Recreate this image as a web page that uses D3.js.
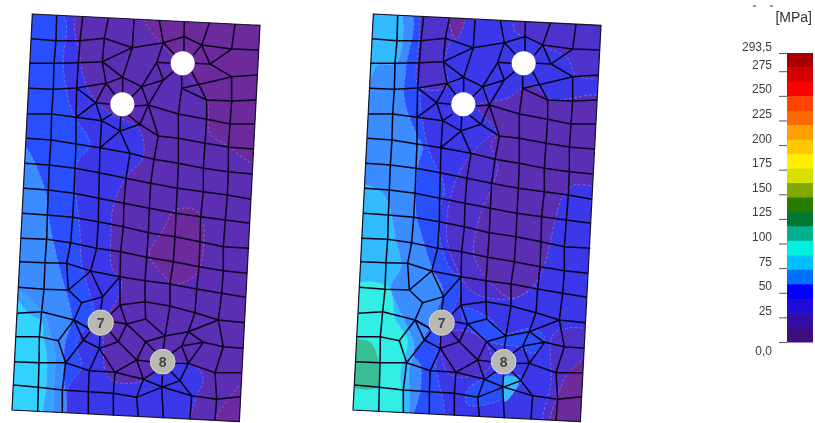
<!DOCTYPE html>
<html lang="en">
<head>
<meta charset="UTF-8">
<title>Stress plot</title>
<script src="https://cdn.jsdelivr.net/npm/d3@7"></script>
<style>
  html, body { margin: 0; background: #fff; }
  svg { display: block; }
  text { font-family: "Liberation Sans", Arial, sans-serif; }
</style>
</head>
<body>
<svg id="chart" width="815" height="423"></svg>
<script>
// legend
const legendMax = 293.5;
const legendTicks = [0, 25, 50, 75, 100, 125, 150, 175, 200, 225, 250, 275, 293.5];
const legendUnit = "[MPa]";
const bandColors = ["#a80000", "#d40000", "#ff0000", "#ff4400", "#ff6a00", "#ffa000", "#ffc800", "#ffee00",
  "#d8e000", "#80a800", "#2a7a00", "#007a30", "#00b090", "#00f0e0", "#00c0ff", "#0070ff",
  "#0000ff", "#1c0cd8", "#300ca8", "#400e80"];

// contour colours
const levelColors = ["#6c2a9c", "#5030cc", "#3b38ea", "#2a50ff", "#3a8cff", "#30bcff", "#30eee4", "#38c094",
  "#5c2db4", "#30d4ff", "#34a4ff"];

const plateOutline = [[97,42],[780,76],[718,1265],[36,1230]];

const holeX = [548, 367];
const holeY = [190, 313];
const holeR = [36, 36];
const boltX = [302, 488];
const boltY = [968, 1085];
const boltR = [38, 37];
const boltLabels = ["7", "8"];

const meshLines = [
  // rows
  [[93,116],[168,122],[240,122],[313,115],[397,143],[490,128],[552,110],[605,135],[695,147],[776,150]],
  [[90,190],[162,190],[235,188],[307,185],[397,143]],
  [[87,265],[160,268],[230,264],[318,250],[368,232],[425,260],[490,240],[520,215]],
  [[545,265],[620,248],[695,230],[772,225]],
  [[545,265],[620,300],[695,303],[768,300]],
  [[83,342],[155,342],[228,352],[305,362],[360,393],[420,373]],
  [[405,318],[445,315],[535,342],[620,358],[690,372],[765,372]],
  [[420,373],[475,408],[535,415],[615,430],[690,442],[760,447]],
  [[79,415],[153,420],[228,432],[300,443],[390,460],[462,478],[535,490],[610,505],[685,515],[755,522]],
  [[75,490],[148,495],[225,505],[298,518],[378,535],[452,550],[532,565],[610,575],[682,585],[752,598]],
  [[72,565],[145,570],[222,580],[296,595],[372,610],[448,625],[528,640],[602,650],[676,660],[750,670]],
  [[67,640],[142,645],[218,652],[295,665],[370,680],[445,698],[525,710],[600,725],[670,740],[748,745]],
  [[62,715],[140,718],[212,728],[290,745],[362,755],[440,772],[520,785],[597,800],[670,812],[742,820]],
  [[58,785],[135,788],[200,790],[272,813],[360,830],[435,842],[510,852],[590,867],[665,880],[738,892]],
  [[55,862],[132,868],[205,870],[272,813]],
  [[205,870],[245,908],[222,960]],
  [[245,908],[308,890],[360,830]],
  [[272,813],[308,890],[302,930]],
  [[52,940],[125,935],[222,960],[275,990]],
  [[48,1010],[118,1010],[175,1022],[222,960]],
  [[44,1085],[117,1088],[197,1088],[268,1112],[345,1117],[430,1138],[485,1160],[575,1187]],
  [[565,1090],[645,1118],[725,1118]],
  [[40,1155],[115,1162],[187,1170],[265,1175],[340,1180],[410,1192],[485,1162],[540,1142]],
  [[575,1187],[650,1198],[722,1190]],
  [[360,915],[435,905],[510,918],[585,938],[655,960],[735,968]],
  [[380,972],[437,957],[495,1008],[565,995],[655,960]],
  [[610,1027],[670,1040],[730,1045]],
  // columns
  [[170,47],[168,122],[162,190],[160,268],[155,342],[153,420],[148,495],[145,570],[142,645],[140,718],[135,788],[132,868],[125,935],[118,1010],[117,1088],[115,1162],[113,1235]],
  [[248,52],[240,122],[235,188],[230,264],[228,352],[228,432],[225,505],[222,580],[218,652],[212,728],[200,790],[205,870]],
  [[175,1022],[197,1088],[187,1170],[187,1237]],
  [[325,55],[313,115],[307,185],[318,250],[287,308],[228,352]],
  [[230,264],[287,308],[330,313]],
  [[318,250],[345,285]],
  [[305,362],[287,308]],
  [[305,362],[300,443],[298,518],[296,595],[295,665],[290,745],[272,813]],
  [[402,60],[397,143],[368,232],[368,278]],
  [[307,185],[368,232]],
  [[478,62],[490,128],[470,187],[425,260],[395,290]],
  [[470,187],[515,190]],
  [[490,128],[525,165]],
  [[470,187],[490,240],[445,315]],
  [[425,260],[445,315],[420,373],[385,345]],
  [[445,315],[475,408],[462,478],[452,550],[448,625],[445,698],[440,772],[435,842],[435,905],[437,957]],
  [[553,66],[552,110],[552,155]],
  [[628,70],[605,135],[580,165]],
  [[705,72],[695,147],[630,192],[585,190]],
  [[605,135],[630,192],[695,230],[695,303],[690,372],[685,442],[685,515],[682,585],[676,660],[670,740],[670,812],[665,880],[655,960],[670,1040],[645,1118],[650,1198],[645,1262]],
  [[545,228],[545,265],[535,342],[535,415],[535,490],[532,565],[528,640],[525,710],[520,785],[510,852],[510,918],[495,1008],[490,1048]],
  [[575,215],[620,300],[620,358],[615,430],[610,505],[610,575],[602,650],[600,725],[597,800],[590,867],[585,938],[565,995],[545,1038],[565,1090],[540,1142],[575,1187],[570,1258]],
  [[390,460],[378,535],[372,610],[370,680],[362,755],[360,830],[360,915],[380,972],[355,1025],[410,1080],[430,1138],[410,1192],[415,1250]],
  [[360,915],[330,945]],
  [[300,443],[360,393],[362,350]],
  [[360,393],[390,460]],
  [[305,362],[335,342]],
  [[298,1045],[300,1005]],
  [[222,960],[250,1020],[270,995]],
  [[250,1020],[197,1088]],
  [[250,1020],[298,1045],[355,1025],[330,995]],
  [[298,1045],[268,1112],[265,1175],[265,1242]],
  [[298,1045],[345,1117],[340,1180],[340,1247]],
  [[345,1117],[410,1080],[450,1085]],
  [[380,972],[340,965]],
  [[380,972],[437,1025],[470,1058]],
  [[410,1080],[437,1025],[495,1008]],
  [[430,1138],[465,1115]],
  [[490,1255],[485,1162],[488,1120]],
  [[540,1142],[510,1112]],
  [[565,1090],[525,1090]],
  [[545,1038],[515,1060]],
  [[545,1038],[610,1027],[565,1090]],
  [[565,995],[610,1027]],
  [[222,960],[275,990]]
];

// left plate contours: level index per region, painted in order
const leftLevels = [2, 3, 4, 10, 9, 8, 0, 0, 0];
const leftContours = [
  [[97,42],[780,76],[718,1265],[36,1230]],
  [[60,30],[190,47],[190,200],[215,330],[270,435],[235,480],[225,560],[235,640],[240,700],[245,790],[260,850],[280,940],[230,1030],[245,1100],[205,1160],[187,1260],[10,1260]],
  [[70,440],[135,570],[145,650],[165,750],[185,830],[205,900],[215,960],[195,1030],[190,1110],[187,1260],[10,1260]],
  [[40,870],[130,940],[150,1000],[165,1060],[160,1170],[150,1260],[10,1260]],
  [[40,890],[85,940],[125,965],[130,1010],[140,1060],[140,1140],[135,1190],[113,1260],[10,1260]],
  [[235,40],[240,170],[265,270],[330,340],[415,385],[430,470],[375,535],[340,620],[332,730],[335,800],[365,850],[345,910],[310,970],[310,1030],[318,1120],[345,1145],[415,1147],[455,1125],[480,1100],[525,1085],[590,1100],[610,1140],[590,1190],[575,1280],[740,1280],[800,40]],
  [[430,40],[490,140],[520,170],[560,220],[620,300],[630,400],[680,435],[775,490],[810,40]],
  [[525,630],[590,632],[610,680],[610,745],[590,820],[525,853],[490,825],[448,762],[490,690]],
  [[745,1140],[680,1205],[640,1280],[745,1280]]
];

// right plate contours
const rightLevels = [2, 3, 4, 5, 5, 6, 7, 1, 1, 1, 8, 0, 3, 3, 5, 1, 1, 0];
const rightContours = [
  [[97,42],[780,76],[718,1265],[36,1230]],
  [[60,20],[245,40],[235,265],[260,440],[310,560],[295,640],[300,730],[330,810],[362,835],[350,900],[320,960],[290,1040],[285,1100],[300,1270],[10,1270]],
  [[60,20],[210,40],[195,200],[190,300],[230,410],[245,440],[230,500],[225,640],[240,700],[275,810],[305,870],[275,960],[245,1020],[215,1060],[240,1100],[195,1270],[10,1270]],
  [[70,20],[175,30],[165,190],[110,195],[75,270]],
  [[45,560],[120,575],[145,620],[165,720],[180,800],[150,860],[190,960],[220,1040],[205,1110],[190,1270],[15,1270]],
  [[30,860],[140,860],[165,960],[200,1020],[180,1110],[170,1270],[15,1270]],
  [[30,1025],[85,1025],[110,1070],[110,1160],[25,1155]],
  [[245,40],[235,120],[235,260],[320,260],[310,190],[325,130],[360,40]],
  [[530,40],[520,90],[560,115],[610,140],[680,175],[705,225],[800,225],[810,40]],
  [[470,400],[390,465],[345,540],[320,640],[320,730],[360,830],[400,880],[515,895],[590,840],[500,700]],
  [[410,318],[500,295],[535,270],[580,258],[630,298],[790,295],[780,550],[700,555],[665,590],[640,670],[620,760],[590,840],[515,895],[445,845],[400,770],[400,720],[420,640],[470,500],[450,430],[470,400]],
  [[325,40],[370,50],[345,120]],
  [[365,925],[440,950],[495,1000],[570,985],[610,1010],[580,1060],[530,1040],[460,1030],[400,1000],[370,970]],
  [[380,1170],[440,1130],[490,1120],[545,1135],[500,1190],[380,1215]],
  [[490,1130],[535,1138],[492,1205]],
  [[310,1000],[400,1000],[450,1060],[440,1110],[340,1130],[310,1100]],
  [[640,1000],[760,1000],[740,1280],[610,1280],[630,1150]],
  [[630,1280],[660,1160],[680,1120],[750,1070],[745,1280]]
];

const unitMarksX = [753, 770];

const svg = d3.select("#chart");
const defs = svg.append("defs");
defs.append("filter").attr("id", "soft").append("feGaussianBlur").attr("stdDeviation", 0.6);
defs.append("clipPath").attr("id", "plateClipL");
defs.append("clipPath").attr("id", "plateClipR");

function drawPlate(offsetX, levels, contours, clipId) {
  const x = d3.scaleLinear().domain([0, 2445]).range([offsetX, offsetX + 815]);
  const y = d3.scaleLinear().domain([0, 1269]).range([0, 423]);
  const r = d3.scaleLinear().domain([0, 3]).range([0, 1]);
  const line = d3.line().x(d => x(d[0])).y(d => y(d[1]));
  const smooth = d3.line().x(d => x(d[0])).y(d => y(d[1])).curve(d3.curveCatmullRomClosed.alpha(0.5));
  const closed = pts => line(pts) + "Z";

  d3.select("#" + clipId).append("path").attr("d", closed(plateOutline));

  const g = svg.append("g").attr("filter", "url(#soft)");
  const fills = g.append("g").attr("clip-path", `url(#${clipId})`);
  contours.forEach((pts, i) => {
    fills.append("path")
      .attr("d", i === 0 ? closed(pts) : smooth(pts))
      .attr("fill", levelColors[levels[i]])
      .attr("stroke", i === 0 ? "none" : "#b7a6f2")
      .attr("stroke-width", 0.8)
      .attr("stroke-opacity", 0.55)
      .attr("stroke-dasharray", "3 2");
  });

  g.append("g").selectAll("path").data(meshLines).join("path")
    .attr("d", line)
    .attr("fill", "none")
    .attr("stroke", "#07051a")
    .attr("stroke-width", 1.5);

  g.append("path")
    .attr("d", closed(plateOutline))
    .attr("fill", "none")
    .attr("stroke", "#16122a")
    .attr("stroke-width", 1.2);

  g.append("g").selectAll("circle").data(holeX).join("circle")
    .attr("cx", d => x(d))
    .attr("cy", (d, i) => y(holeY[i]))
    .attr("r", (d, i) => r(holeR[i]))
    .attr("fill", "#fff");

  g.append("g").selectAll("circle").data(boltX).join("circle")
    .attr("cx", d => x(d))
    .attr("cy", (d, i) => y(boltY[i]))
    .attr("r", (d, i) => r(boltR[i]))
    .attr("fill", "#b9b8b2")
    .attr("stroke", "#d8d8d0");

  g.append("g").selectAll("text").data(boltLabels).join("text")
    .attr("x", (d, i) => x(boltX[i]))
    .attr("y", (d, i) => y(boltY[i]) + 5)
    .attr("text-anchor", "middle")
    .attr("font-size", 14)
    .attr("font-weight", "bold")
    .attr("fill", "#444")
    .text(d => d);
}

drawPlate(0, leftLevels, leftContours, "plateClipL");
drawPlate(341, rightLevels, rightContours, "plateClipR");

// legend bar
const legendY = d3.scaleLinear().domain([0, legendMax]).range([342, 53]);
const legend = svg.append("g").attr("filter", "url(#soft)");
const bandStep = legendMax / bandColors.length;
legend.selectAll("rect").data(bandColors).join("rect")
  .attr("x", 787)
  .attr("width", 26)
  .attr("y", (d, i) => legendY(legendMax - i * bandStep))
  .attr("height", (d, i) => legendY(legendMax - (i + 1) * bandStep) - legendY(legendMax - i * bandStep) + 0.5)
  .attr("fill", d => d);

const axis = d3.axisLeft(legendY)
  .tickValues(legendTicks)
  .tickSize(8)
  .tickPadding(7)
  .tickFormat(v => Number.isInteger(v) && v !== 0 ? String(v) : v.toFixed(1).replace(".", ","));

const axisG = legend.append("g").attr("transform", "translate(787,0)").call(axis);
axisG.select(".domain").remove();
axisG.selectAll("line").attr("stroke", "#555");
axisG.selectAll("text")
  .attr("font-size", 12)
  .attr("font-family", '"Liberation Sans", Arial, sans-serif')
  .attr("fill", "#3c3c3c")
  .attr("dy", v => v === 0 ? "1em" : "-0.25em");

legend.append("text")
  .attr("x", 812)
  .attr("y", 22)
  .attr("text-anchor", "end")
  .attr("font-size", 14)
  .attr("fill", "#333")
  .text(legendUnit);

// two cut-off marks above the unit label
legend.selectAll("line.mark").data(unitMarksX).join("line")
  .attr("class", "mark")
  .attr("x1", d => d)
  .attr("x2", d => d + 3)
  .attr("y1", 6)
  .attr("y2", 6)
  .attr("stroke", "#333")
  .attr("stroke-width", 1);
</script>
</body>
</html>
